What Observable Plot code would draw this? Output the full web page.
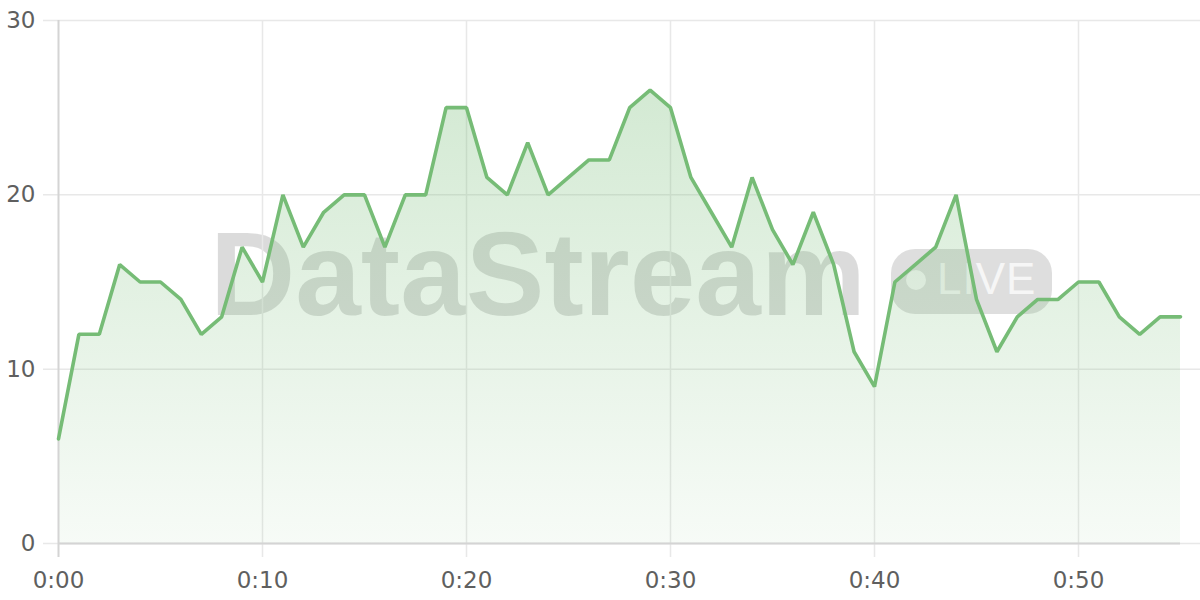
<!DOCTYPE html>
<html>
<head>
<meta charset="utf-8">
<script src="https://cdn.jsdelivr.net/npm/d3@7"></script>
<script src="https://cdn.jsdelivr.net/npm/@observablehq/plot@0.6"></script>
<style>
  html, body { margin: 0; padding: 0; background: #fff; }
  #wrap { position: relative; width: 1200px; height: 600px; overflow: hidden; }
  #wm { position: absolute; left: 0; top: 0; width: 1200px; height: 600px; z-index: 0; pointer-events: none; }
  #wm .brand { position: absolute; left: 210px; top: 215px; font-family: "Liberation Sans", Arial, sans-serif; font-weight: bold; font-size: 118px; line-height: 1; color: rgba(0,0,0,0.14); letter-spacing: 0px; white-space: nowrap; }
  #wm .pill { position: absolute; left: 891px; top: 249px; width: 161px; height: 65px; border-radius: 24px; background: rgba(0,0,0,0.13); }
  #wm .dot { position: absolute; left: 15px; top: 21px; width: 20px; height: 20px; border-radius: 50%; background: rgba(255,255,255,0.75); }
  #wm .live { position: absolute; left: 46px; top: 8px; font-family: "Liberation Sans", Arial, sans-serif; font-size: 44px; line-height: 1; color: rgba(255,255,255,0.75); letter-spacing: 1px; }
  #chart { position: absolute; left: 0; top: 0; z-index: 1; }
  #chart svg { background: transparent !important; }
</style>
</head>
<body>
<div id="wrap">
  <div id="wm"><div class="brand">DataStream</div><div class="pill"><div class="dot"></div><div class="live">LIVE</div></div></div>
  <div id="chart"></div>
</div>
<script>
const minutes = [0,1,2,3,4,5,6,7,8,9,10,11,12,13,14,15,16,17,18,19,20,21,22,23,24,25,26,27,28,29,30,31,32,33,34,35,36,37,38,39,40,41,42,43,44,45,46,47,48,49,50,51,52,53,54,55];
const values = [6,12,12,16,15,15,14,12,13,17,15,20,17,19,20,20,17,20,20,25,25,21,20,23,20,21,22,22,25,26,25,21,19,17,21,18,16,19,16,11,9,15,16,17,20,14,11,13,14,14,15,15,13,12,13,13];
const xTicks = [0,10,20,30,40,50];
const yTicks = [0,10,20,30];

const data = minutes.map((m, i) => ({m, v: values[i]}));
const green = "#76bc76";

const defs = () => {
  const ns = "http://www.w3.org/2000/svg";
  const d = document.createElementNS(ns, "defs");
  const g = document.createElementNS(ns, "linearGradient");
  g.setAttribute("id", "areaGrad");
  g.setAttribute("x1", "0"); g.setAttribute("y1", "0");
  g.setAttribute("x2", "0"); g.setAttribute("y2", "1");
  const s1 = document.createElementNS(ns, "stop");
  s1.setAttribute("offset", "0%"); s1.setAttribute("stop-color", green); s1.setAttribute("stop-opacity", "0.32");
  const s2 = document.createElementNS(ns, "stop");
  s2.setAttribute("offset", "100%"); s2.setAttribute("stop-color", green); s2.setAttribute("stop-opacity", "0.06");
  g.appendChild(s1); g.appendChild(s2); d.appendChild(g);
  return d;
};

const fmt = d => `0:${String(d).padStart(2, "0")}`;

const chart = Plot.plot({
  width: 1200,
  height: 600,
  marginLeft: 58,
  marginRight: 20,
  marginTop: 20,
  marginBottom: 57,
  style: { background: "transparent", fontFamily: "DejaVu Sans, sans-serif", fontSize: "23px", color: "#5f5f5f" },
  x: { domain: [0, 55], ticks: xTicks, tickFormat: fmt, label: null },
  y: { domain: [0, 30], ticks: yTicks, label: null },
  marks: [
    defs,
    Plot.ruleY(yTicks, { stroke: "#e8e8e8", strokeWidth: 1.5, insetLeft: -15, insetRight: -20 }),
    Plot.ruleX(xTicks.filter(t => t > 0), { y1: 30, y2: 0, stroke: "#e8e8e8", strokeWidth: 1.5, insetBottom: -14 }),
    Plot.areaY(data, { x: "m", y: "v", fill: "url(#areaGrad)" }),
    Plot.ruleX([0], { y1: 30, y2: 0, stroke: "#d4d4d4", strokeWidth: 2, insetBottom: -14 }),
    Plot.ruleY([0], { stroke: "#d4d4d4", strokeWidth: 2 }),
    Plot.lineY(data, { x: "m", y: "v", stroke: green, strokeWidth: 3.6, strokeLinejoin: "miter" }),
    Plot.axisX({ ticks: xTicks, tickSize: 0, tickPadding: 28, fontSize: 23, fill: "#5f5f5f", tickFormat: fmt, label: null }),
    Plot.axisY({ ticks: yTicks, tickSize: 0, tickPadding: 23, fontSize: 23, fill: "#5f5f5f", label: null })
  ]
});
document.getElementById("chart").appendChild(chart);
</script>
</body>
</html>
